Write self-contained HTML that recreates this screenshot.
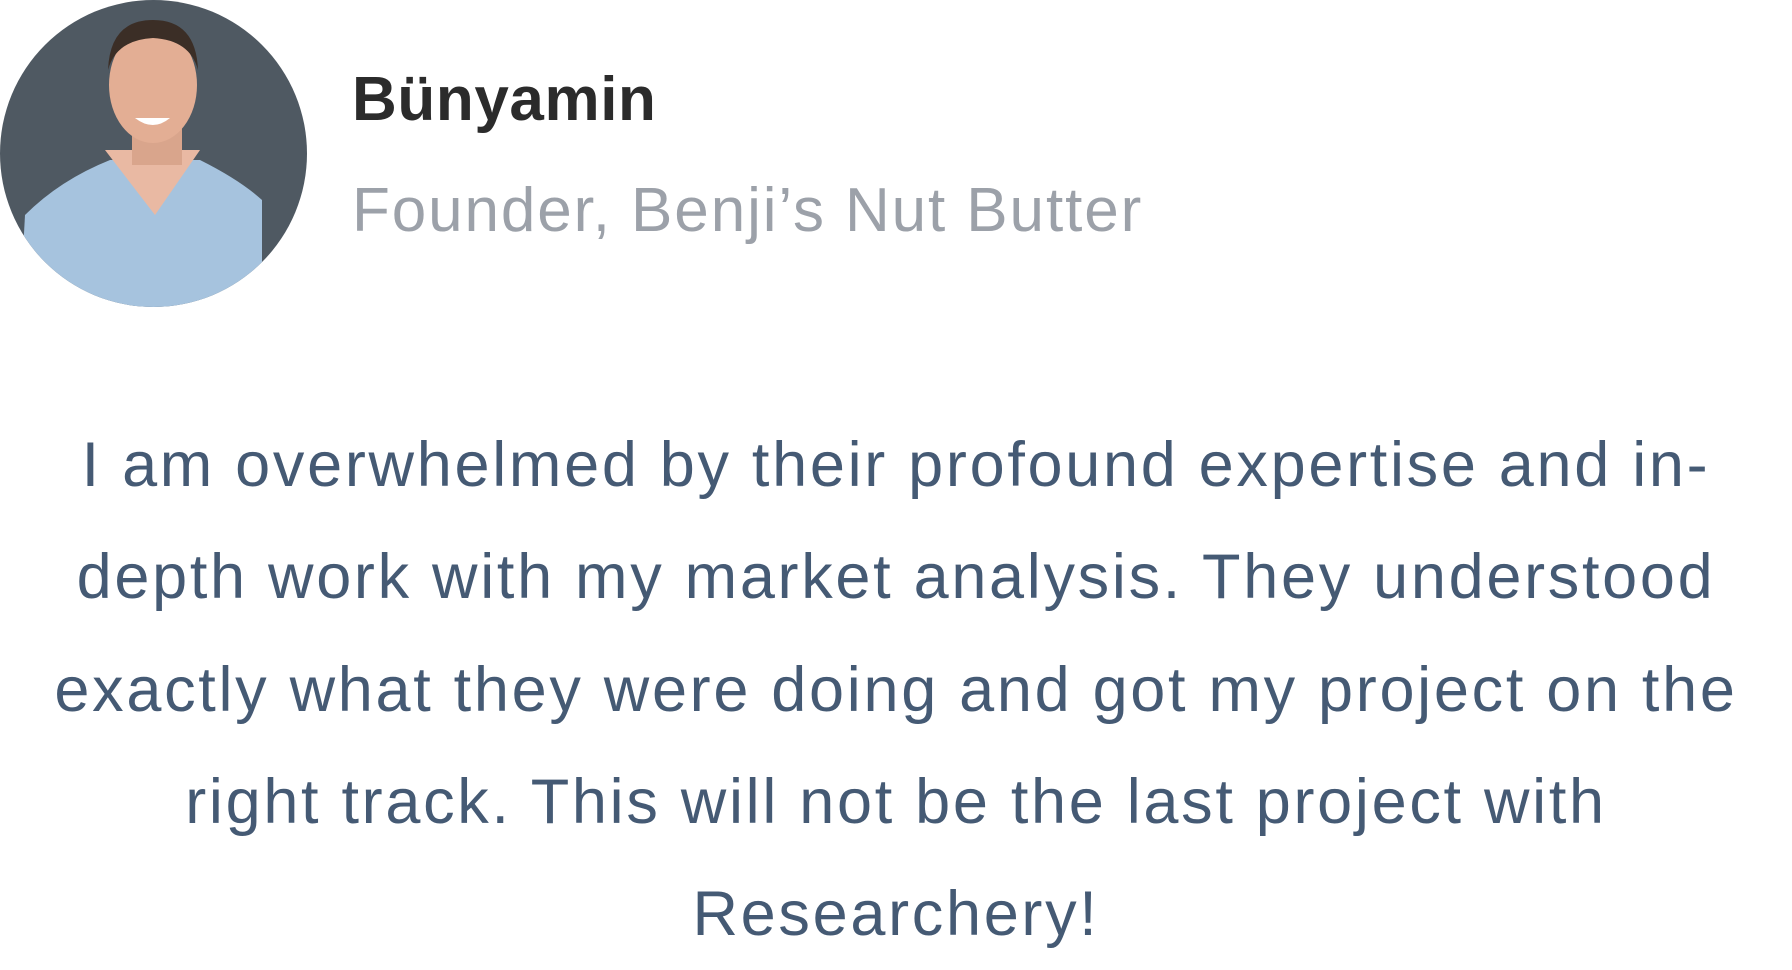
<!DOCTYPE html>
<html><head><meta charset="utf-8">
<style>
html,body{margin:0;padding:0;background:#fff;}
body{width:1792px;height:968px;position:relative;overflow:hidden;font-family:"Liberation Sans",sans-serif;}
#avatar{position:absolute;left:0;top:0;width:307px;height:307px;}
#name{position:absolute;left:352px;top:64px;font-size:62px;font-weight:bold;color:#2b2b2b;line-height:72px;white-space:nowrap;letter-spacing:0.6px;}
#role{position:absolute;left:352px;top:175px;font-size:62px;color:#9ca1a9;line-height:72px;white-space:nowrap;letter-spacing:1.9px;}
#quote{position:absolute;left:0;top:409px;width:1792px;text-align:center;font-size:63px;line-height:112.3px;color:#455a74;letter-spacing:2.7px;}
#quote span{display:block;white-space:nowrap;}
</style></head>
<body>
<svg id="avatar" viewBox="0 0 307 307">
  <defs><clipPath id="c"><circle cx="153.5" cy="153.5" r="153.5"/></clipPath></defs>
  <g clip-path="url(#c)">
    <rect width="307" height="307" fill="#4f5962"/>
    <path d="M20 307 L25 215 Q60 180 110 160 L200 160 Q240 180 262 200 L262 307 Z" fill="#a6c3de"/>
    <path d="M105 150 L155 215 L200 150 Z" fill="#e9b9a3"/>
    <rect x="132" y="120" width="50" height="45" fill="#d9a58c"/>
    <ellipse cx="153" cy="85" rx="44" ry="58" fill="#e3ae94"/>
    <path d="M108 70 Q110 20 153 20 Q196 20 198 70 Q190 40 153 38 Q116 40 108 70 Z" fill="#3b2e26"/>
    <path d="M135 118 Q153 132 170 118 Z" fill="#fff"/>
  </g>
</svg>
<div id="name">Bünyamin</div>
<div id="role">Founder, Benji’s Nut Butter</div>
<div id="quote">
<span>I am overwhelmed by their profound expertise and in-</span>
<span>depth work with my market analysis. They understood</span>
<span>exactly what they were doing and got my project on the</span>
<span>right track. This will not be the last project with</span>
<span>Researchery!</span>
</div>
</body></html>
